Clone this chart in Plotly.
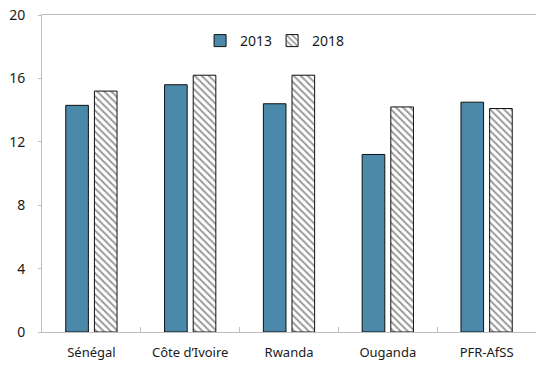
import plotly.graph_objs as go

## data

countries = ['Sénégal', 'Côte d’Ivoire', 'Rwanda', 'Ouganda', 'PFR-AfSS']
vals_2013 = [14.3, 15.6, 14.4, 11.2, 14.5]
vals_2018 = [15.2, 16.2, 16.2, 14.2, 14.1]
y_ticks   = [0, 4, 8, 12, 16, 20]

axis_grey = '#bfbfbf'
font = dict(family='Noto Sans, Open Sans, sans-serif', size=13, color='#1a1a1a')

fig = go.Figure(
  data=[
    go.Bar(
      x=countries, y=vals_2013, name='2013',
      marker=dict(color='#4a89aa', line=dict(color='#111111', width=1))
    ),
    go.Bar(
      x=countries, y=vals_2018, name='2018',
      marker=dict(
        color='white',
        line=dict(color='#111111', width=1),
        pattern=dict(shape='\\', fgcolor='#333333', bgcolor='white', size=5, solidity=0.4)
      )
    ),
  ],
  layout=go.Layout(
    width=536, height=365,
    margin=dict(l=42, r=0, t=15, b=33),
    paper_bgcolor='white', plot_bgcolor='white',
    font=font,
    barmode='group', bargap=0.42, bargroupgap=0.21,
    showlegend=True,
    legend=dict(
      orientation='h', x=0.32, xanchor='left', y=0.918, yanchor='middle',
      bgcolor='rgba(0,0,0,0)', font=dict(size=14),
      entrywidth=27, entrywidthmode='pixels'
    ),
    xaxis=dict(
      showline=True, linecolor=axis_grey, linewidth=1, mirror=True,
      ticks='inside', tickson='boundaries', ticklen=5, tickcolor=axis_grey,
      showgrid=False, automargin=False, ticklabelstandoff=8
    ),
    yaxis=dict(
      range=[0, 20], tickvals=y_ticks, showgrid=False, zeroline=False,
      showline=True, linecolor=axis_grey, linewidth=1,
      ticks='outside', ticklen=3, tickcolor=axis_grey, ticklabelstandoff=10,
      tickfont=dict(size=14), automargin=False
    )
  )
)

# drop the browser's default 8px body margin so the figure fills the window
fig.write_html(
  'out.html',
  config={'displayModeBar': False},
  post_script="document.body.style.margin='0';"
)
